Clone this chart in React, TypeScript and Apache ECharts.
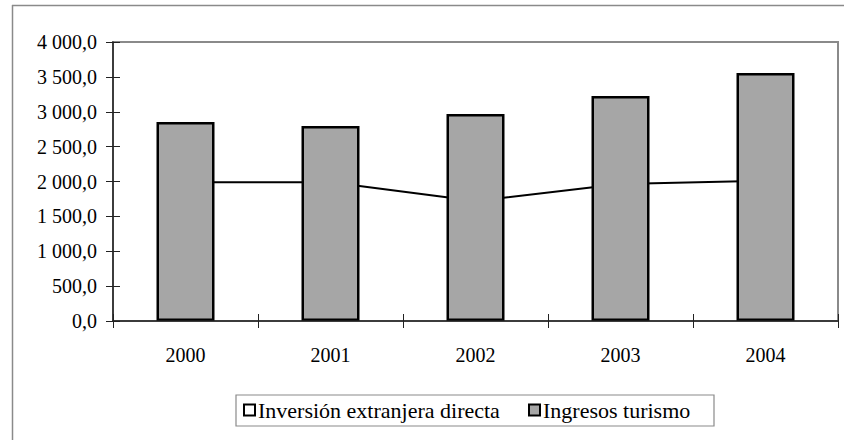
import React, { useEffect, useRef } from "react";
import * as echarts from "echarts";

const categories = ["2000", "2001", "2002", "2003", "2004"];
const inversionValues = [1988, 1988, 1719, 1963, 2013];
const turismoValues = [2853, 2796, 2968, 3226, 3556];
const seriesNames = ["Inversión extranjera directa", "Ingresos turismo"];
const yMin = 0;
const yMax = 4000;
const yStep = 500;

const FONT = "Liberation Serif";

function fmt(v: number): string {
  const s = v.toFixed(1).replace(".", ",");
  const [intPart, dec] = s.split(",");
  const withSep = intPart.replace(/\B(?=(\d{3})+(?!\d))/g, " ");
  return withSep + "," + dec;
}

export default function App() {
  const ref = useRef<HTMLDivElement>(null);
  useEffect(() => {
    if (!ref.current) return;
    const chart = echarts.init(ref.current, undefined, { renderer: "svg" });
    const axisColor = "#222";
    const legendText = {
      fontFamily: FONT,
      fontSize: 22,
      color: "#000",
      padding: [0, 0, 0, -2],
    };
    const legendBase = {
      top: 399,
      icon: "rect",
      itemWidth: 11,
      itemHeight: 11,
      padding: 0,
      textStyle: legendText,
    };
    chart.setOption({
      animation: false,
      backgroundColor: "#fff",
      textStyle: { fontFamily: FONT },
      grid: {
        left: 113,
        right: 6,
        top: 42,
        bottom: 119,
        show: true,
        borderColor: "#8a8a8a",
        borderWidth: 2,
        backgroundColor: "transparent",
      },
      legend: [
        {
          ...legendBase,
          left: 243,
          data: [
            {
              name: seriesNames[0],
              icon: "rect",
              itemStyle: { color: "#fff", borderColor: "#000", borderWidth: 2 },
            },
          ],
        },
        {
          ...legendBase,
          left: 528,
          data: [
            {
              name: seriesNames[1],
              icon: "rect",
              itemStyle: { color: "#a6a6a6", borderColor: "#000", borderWidth: 2 },
            },
          ],
        },
      ],
      graphic: [
        {
          type: "line",
          shape: { x1: 12, y1: 5.5, x2: 844, y2: 5.5 },
          style: { stroke: "#8a8a8a", lineWidth: 1.5 },
          silent: true,
        },
        {
          type: "line",
          shape: { x1: 12.5, y1: 5, x2: 12.5, y2: 440 },
          style: { stroke: "#8a8a8a", lineWidth: 1.5 },
          silent: true,
        },
        {
          type: "rect",
          shape: { x: 236, y: 395, width: 478, height: 31 },
          style: { fill: "transparent", stroke: "#8a8a8a", lineWidth: 1.2 },
          silent: true,
          z: -1,
        },
      ],
      xAxis: [
        {
          type: "category",
          data: categories,
          position: "bottom",
          axisLine: { show: true, lineStyle: { color: axisColor, width: 1.5 } },
          axisTick: { show: true, length: 7, lineStyle: { color: axisColor, width: 1 } },
          axisLabel: { fontFamily: FONT, fontSize: 20, color: "#000", margin: 24 },
          splitLine: { show: false },
          z: 10,
        },
        {
          type: "category",
          data: categories,
          position: "bottom",
          axisLine: { show: false },
          axisTick: { show: true, inside: true, length: 7, lineStyle: { color: axisColor, width: 1 } },
          axisLabel: { show: false },
          splitLine: { show: false },
        },
      ],
      yAxis: [
        {
          type: "value",
          min: yMin,
          max: yMax,
          interval: yStep,
          position: "left",
          axisLine: { show: true, lineStyle: { color: axisColor, width: 1.5 } },
          axisTick: { show: true, length: 7, lineStyle: { color: axisColor, width: 1 } },
          axisLabel: {
            fontFamily: FONT,
            fontSize: 20,
            color: "#000",
            margin: 16,
            formatter: (v: number) => fmt(v),
          },
          splitLine: { show: false },
          z: 10,
        },
        {
          type: "value",
          min: yMin,
          max: yMax,
          interval: yStep,
          position: "left",
          axisLine: { show: false },
          axisTick: { show: true, inside: true, length: 7, lineStyle: { color: axisColor, width: 1 } },
          axisLabel: { show: false },
          splitLine: { show: false },
        },
      ],
      series: [
        {
          name: seriesNames[0],
          type: "line",
          data: inversionValues,
          xAxisIndex: 0,
          yAxisIndex: 0,
          symbol: "none",
          lineStyle: { color: "#000", width: 2 },
          itemStyle: { color: "#fff", borderColor: "#000" },
          z: 2,
        },
        {
          name: seriesNames[1],
          type: "bar",
          data: turismoValues,
          xAxisIndex: 0,
          yAxisIndex: 0,
          barWidth: 58,
          itemStyle: { color: "#a6a6a6", borderColor: "#000", borderWidth: 2.5 },
          z: 3,
        },
      ],
    });
    return () => chart.dispose();
  }, []);
  return (
    <div
      ref={ref}
      style={{ position: "fixed", left: 0, top: 0, width: 844, height: 440 }}
    />
  );
}
